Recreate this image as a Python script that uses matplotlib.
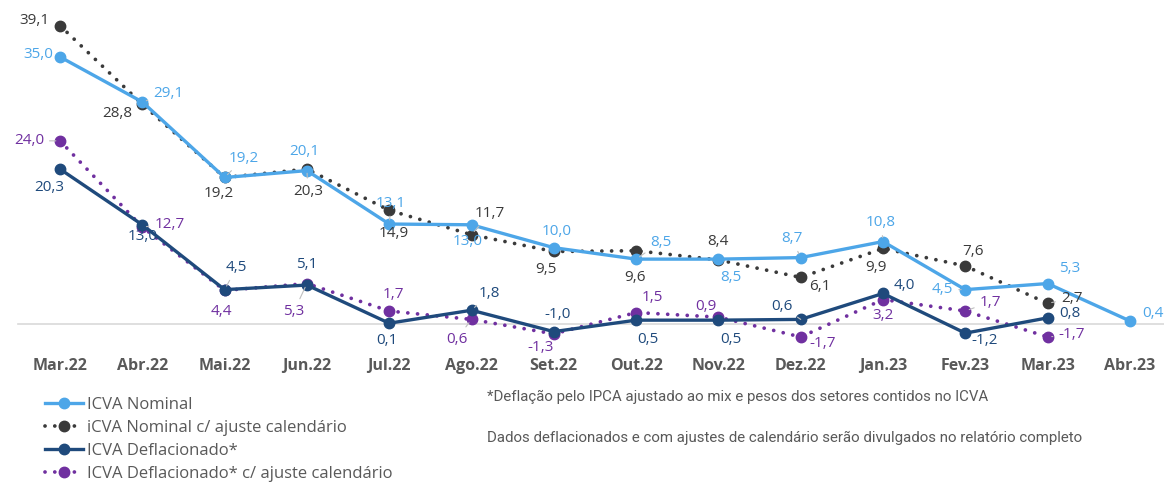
import numpy as np
import matplotlib
matplotlib.use("Agg")
import matplotlib.pyplot as plt
from matplotlib.lines import Line2D

plt.rcParams['font.family'] = ['Open Sans', 'DejaVu Sans']

months = ["Mar.22", "Abr.22", "Mai.22", "Jun.22", "Jul.22", "Ago.22", "Set.22",
          "Out.22", "Nov.22", "Dez.22", "Jan.23", "Fev.23", "Mar.23", "Abr.23"]

nominal = [35.0, 29.1, 19.2, 20.1, 13.1, 13.0, 10.0, 8.5, 8.5, 8.7, 10.8, 4.5, 5.3, 0.4]
nominal_cal = [39.1, 28.8, 19.2, 20.3, 14.9, 11.7, 9.5, 9.6, 8.4, 6.1, 9.9, 7.6, 2.7, np.nan]
deflated = [20.3, 13.0, 4.5, 5.1, 0.1, 1.8, -1.0, 0.5, 0.5, 0.6, 4.0, -1.2, 0.8, np.nan]
deflated_cal = [24.0, 12.7, 4.4, 5.3, 1.7, 0.6, -1.3, 1.5, 0.9, -1.7, 3.2, 1.7, -1.7, np.nan]

# label offsets in pixels (dx, dy, ha, leader line)
off_nominal = [(-7, 2, 'right', 0), (11, 8, 'left', 1), (4, 19, 'left', 1), (-3, 19, 'center', 0),
               (2, 21, 'center', 1), (-4, -17, 'center', 0), (3, 16, 'center', 0), (14, 17, 'left', 1),
               (12, -18, 'center', 0), (-9, 19, 'center', 1), (-2, 19, 'center', 1), (-12, 0, 'right', 1),
               (22, 15, 'center', 0), (23, 7, 'center', 0)]
off_nominal_cal = [(-11, 5, 'right', 0), (-10, -9, 'right', 0), (-6, -16, 'center', 0), (1, -22, 'center', 1),
                   (5, -23, 'center', 0), (18, 21, 'center', 1), (-8, -18, 'center', 0), (-1, -27, 'center', 0),
                   (0, 18, 'center', 0), (19, -9, 'center', 0), (-7, -19, 'center', 0), (8, 14, 'center', 0),
                   (24, 5, 'center', 1), None]
off_deflated = [(-11, -18, 'center', 0), (0, -12, 'center', 0), (12, 22, 'center', 1), (0, 21, 'center', 0),
                (-2, -17, 'center', 0), (18, 17, 'center', 1), (4, 17, 'center', 0), (12, -19, 'center', 0),
                (12, -19, 'center', 0), (-19, 13, 'center', 1), (21, 8, 'center', 0), (19, -7, 'center', 0),
                (22, 4, 'center', 0), None]
off_deflated_cal = [(-16, 0, 'right', 1), (12, 3, 'left', 1), (-3, -21, 'center', 0), (-13, -28, 'center', 1),
                    (4, 17, 'center', 0), (-15, -20, 'center', 1), (-13, -14, 'center', 0), (16, 15, 'center', 0),
                    (-12, 11, 'center', 0), (22, -7, 'center', 0), (0, -16, 'center', 0), (25, 9, 'center', 1),
                    (24, 2, 'center', 1), None]

c_nom = "#4DA6E8"
c_nom_cal = "#3A3A3A"
c_def = "#1F4A7C"
c_def_cal = "#7030A0"
gray = "#595959"
dots = (0, (0.01, 2.6))

fig = plt.figure(figsize=(11.64, 4.82), dpi=100)
# x: point i at 60 + 82.3*i px ; y: zero at 324 px, 7.63 px per unit
ax = fig.add_axes([0, 1 - 354.5 / 482, 1, 351 / 482])
ax.set_xlim(-60 / 82.3, 1104 / 82.3)
ax.set_ylim(-4, 42)
ax.axis('off')

x = np.arange(len(months))
ax.plot([-42 / 82.3, 1104 / 82.3], [0, 0], color="#D9D9D9", lw=1.2, zorder=1)

series = [
    (nominal, c_nom, '-', 2.4, off_nominal, 4),
    (nominal_cal, c_nom_cal, dots, 2.7, off_nominal_cal, 3),
    (deflated, c_def, '-', 2.4, off_deflated, 4),
    (deflated_cal, c_def_cal, dots, 2.7, off_deflated_cal, 3),
]

for vals, col, ls, lw, offs, z in series:
    ax.plot(x, vals, color=col, lw=lw, ls=ls, marker='o', markersize=7.5,
            dash_capstyle='round', solid_capstyle='round', zorder=z)
    for i, v in enumerate(vals):
        if offs[i] is None or np.isnan(v):
            continue
        dx, dy, ha, lead = offs[i]
        label = f"{v:.1f}".replace('.', ',')
        arrow = dict(arrowstyle='-', color='#BFBFBF', lw=0.8, shrinkA=2, shrinkB=3) if lead else None
        ax.annotate(label, (i, v), xytext=(dx, dy), textcoords='offset pixels',
                    ha=ha, va='center', fontsize=11, color=col, arrowprops=arrow, zorder=6)

for i, m in enumerate(months):
    ax.text(i, -5.5, m, ha='center', va='center', fontsize=11.5, fontweight='bold',
            color=gray, clip_on=False)

handles = [
    Line2D([], [], color=c_nom, lw=2.4, marker='o', markersize=7.5),
    Line2D([], [], color=c_nom_cal, lw=2.7, ls=dots, marker='o', markersize=7.5,
           dash_capstyle='round'),
    Line2D([], [], color=c_def, lw=2.4, marker='o', markersize=7.5),
    Line2D([], [], color=c_def_cal, lw=2.7, ls=dots, marker='o', markersize=7.5,
           dash_capstyle='round'),
]
names = ["ICVA Nominal", "iCVA Nominal c/ ajuste calendário",
         "ICVA Deflacionado*", "ICVA Deflacionado* c/ ajuste calendário"]
leg = fig.legend(handles, names, loc='upper left', bbox_to_anchor=(45 / 1164, 1 - 397 / 482),
                 frameon=False, fontsize=12, handlelength=2.3, handletextpad=0.2,
                 labelspacing=0.42, borderpad=0, borderaxespad=0)
for t in leg.get_texts():
    t.set_color(gray)

fig.text(487 / 1164, 1 - 397 / 482, "*Deflação pelo IPCA ajustado ao mix e pesos dos setores contidos no ICVA",
         fontsize=10.8, color=gray, family=['Roboto', 'DejaVu Sans'], va='center')
fig.text(487 / 1164, 1 - 438 / 482, "Dados deflacionados e com ajustes de calendário serão divulgados no relatório completo",
         fontsize=10.8, color=gray, family=['Roboto', 'DejaVu Sans'], va='center')

fig.savefig("out.png", dpi=100)
